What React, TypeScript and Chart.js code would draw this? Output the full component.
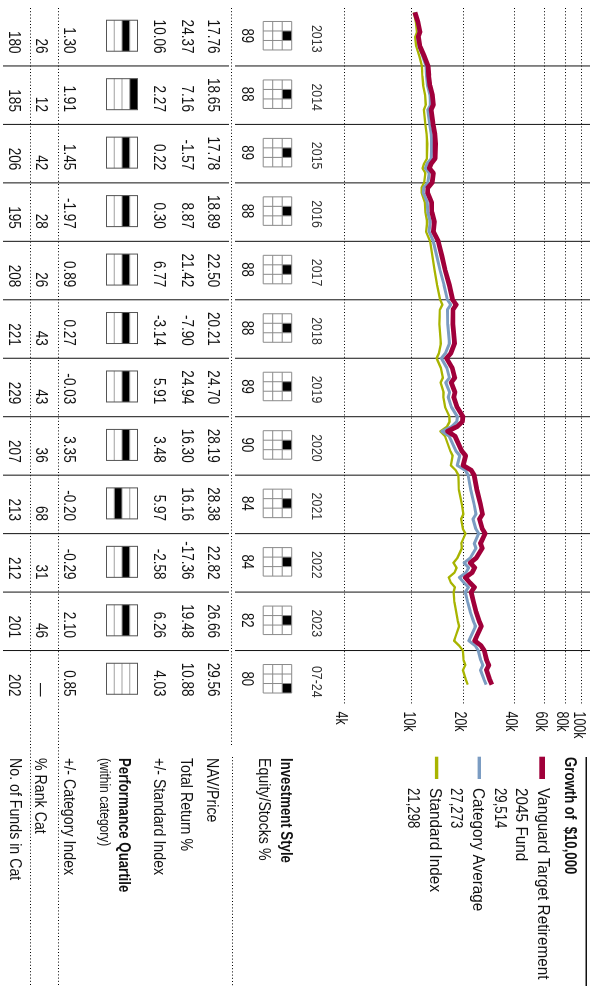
import React, { useEffect, useRef } from 'react';
import { Chart, registerables } from 'chart.js';

Chart.register(...registerables);

// ---- Growth of $10,000 (month index: 1 = end of Jan 2013) ----
const MONTHS = [1, 3, 5, 6, 8, 10, 12, 14, 16, 18, 20, 21, 24, 26, 28, 31, 32, 33, 34, 36, 37, 38, 40, 42, 44, 46, 48, 51, 54, 57, 60, 61, 62, 65, 69, 71, 72, 74, 76, 77, 79, 80, 82, 84, 85, 86, 87, 88, 91, 92, 94, 95, 96, 99, 102, 104, 105, 107, 108, 110, 111, 113, 114, 115, 116, 117, 118, 119, 120, 122, 124, 126, 127, 129, 130, 131, 132, 134, 135, 136, 138, 139];

const FUND = [10400, 10850, 11150, 10900, 11150, 11800, 12437,
  12550, 12750, 13200, 13350, 12950, 13328,
  13650, 13750, 13700, 13000, 12650, 13350, 13119,
  12400, 12350, 13050, 13100, 13550, 13350, 14283,
  15000, 15700, 16600, 17342,
  18200, 17450, 17400, 17800, 16900, 15972,
  17250, 17850, 17000, 17900, 17600, 18400, 19955,
  19800, 18500, 16200, 17900, 19600, 20700, 20000, 22300, 23208,
  24100, 25300, 26000, 24950, 25900, 26958,
  25300, 25900, 23900, 22000, 23400, 22600, 20600, 21800, 23300, 22278,
  23000, 23800, 24900, 25600, 24100, 23400, 25500, 26618,
  27500, 28300, 27400, 28700, 29514];

const CATEGORY = [10380, 10780, 11050, 10780, 11000, 11580, 12100,
  12180, 12330, 12750, 12870, 12400, 12700,
  12980, 13080, 13000, 12300, 11980, 12630, 12400,
  11720, 11650, 12320, 12380, 12800, 12600, 13350,
  14000, 14650, 15450, 16150,
  16900, 16200, 16250, 16600, 15700, 14900,
  16050, 16600, 15800, 16650, 16350, 17050, 18500,
  18350, 17150, 15000, 16550, 18100, 19100, 18450, 20600, 21400,
  22150, 23200, 23800, 22850, 23700, 24700,
  23250, 23800, 22000, 20250, 21550, 20800, 19000, 20100, 21500, 20600,
  21250, 22000, 23000, 23650, 22250, 21600, 23550, 24550,
  25400, 26150, 25300, 26550, 27273];

const INDEX = [10250, 10550, 10700, 10450, 10600, 11050, 11431,
  11500, 11650, 11950, 12050, 11750, 11990,
  12200, 12300, 12250, 11800, 11550, 12000, 11775,
  11400, 11400, 11900, 12000, 12300, 12100, 12785,
  13200, 13600, 14050, 14658,
  15100, 14600, 14500, 14800, 14400, 13960,
  14800, 15200, 14750, 15350, 15300, 15650, 16616,
  16650, 16100, 14700, 15650, 16800, 17350, 16950, 18100, 18747,
  18900, 19650, 20050, 19450, 19900, 20657,
  19500, 19650, 18500, 17550, 18300, 17800, 16450, 16900, 17900, 17604,
  17750, 18200, 18600, 18950, 18100, 17700, 18950, 19931,
  20150, 20600, 19950, 20750, 21296];

const Y_TICKS = [4000, 10000, 20000, 40000, 60000, 80000, 100000];
const Y_TICK_LABELS = ['4k', '10k', '20k', '40k', '60k', '80k', '100k'];

const LEGEND_NAMES = [['Vanguard Target Retirement', '2045 Fund'], ['Category Average'], ['Standard Index']];
const LEGEND_VALUES = ['29,514', '27,273', '21,298'];

// ---- table ----
const YEARS = ['2013', '2014', '2015', '2016', '2017', '2018', '2019', '2020', '2021', '2022', '2023', '07-24'];
const EQUITY = ['89', '88', '89', '88', '88', '88', '89', '90', '84', '84', '82', '80'];
const STYLE_COL = [1, 1, 1, 1, 1, 1, 1, 1, 1, 1, 1, 2]; // 0 value, 1 blend, 2 growth (large row)
const NAV = ['17.76', '18.65', '17.78', '18.89', '22.50', '20.21', '24.70', '28.19', '28.38', '22.82', '26.66', '29.56'];
const TOTAL_RETURN = ['24.37', '7.16', '-1.57', '8.87', '21.42', '-7.90', '24.94', '16.30', '16.16', '-17.36', '19.48', '10.88'];
const VS_STANDARD = ['10.06', '2.27', '0.22', '0.30', '6.77', '-3.14', '5.91', '3.48', '5.97', '-2.58', '6.26', '4.03'];
const QUARTILE = [2, 1, 2, 2, 2, 2, 2, 2, 3, 2, 2, 0];
const VS_CATEGORY = ['1.30', '1.91', '1.45', '-1.97', '0.89', '0.27', '-0.03', '3.35', '-0.20', '-0.29', '2.10', '0.85'];
const RANK_CAT = ['26', '12', '42', '28', '26', '43', '43', '36', '68', '31', '46', '—'];
const FUNDS_IN_CAT = ['180', '185', '206', '195', '208', '221', '229', '207', '213', '212', '201', '202'];

const RED = '#a0003a';
const BLUE = '#7b9cc2';
const GREEN = '#a8b400';
const INK = '#111';
const FONT = "'Liberation Sans', Arial, sans-serif";

function text(ctx: CanvasRenderingContext2D, s: string, x: number, y: number,
  o: { size?: number; bold?: boolean; align?: CanvasTextAlign; color?: string; sx?: number } = {}) {
  const size = o.size ?? 16.5;
  ctx.save();
  ctx.font = `${o.bold ? 'bold ' : ''}${size}px ${FONT}`;
  ctx.fillStyle = o.color ?? INK;
  ctx.textBaseline = 'middle';
  ctx.textAlign = o.align ?? 'left';
  ctx.translate(x, y);
  ctx.scale(o.sx ?? 0.84, 1);
  ctx.fillText(s, 0, 0);
  ctx.restore();
}

function seg(ctx: CanvasRenderingContext2D, x1: number, y1: number, x2: number, y2: number) {
  ctx.beginPath();
  ctx.moveTo(x1, y1);
  ctx.lineTo(x2, y2);
  ctx.stroke();
}

const crisp = (v: number) => Math.round(v - 0.5) + 0.5;

const morningstarPlugin = {
  id: 'morningstarTable',
  beforeDatasetsDraw(chart: any) {
    const { ctx, scales } = chart;
    const x = scales.x;
    const y = scales.y;
    ctx.save();
    ctx.strokeStyle = '#000';
    ctx.lineWidth = 1;
    ctx.setLineDash([1, 2.2]);
    Y_TICKS.forEach((v) => {
      const py = crisp(y.getPixelForValue(v));
      seg(ctx, 8, py, 705, py);
    });
    seg(ctx, 8, 358.5, 745, 358.5);
    seg(ctx, 757, 357.5, 986, 357.5);
    seg(ctx, 8, 531.5, 986, 531.5);
    seg(ctx, 8, 559.5, 986, 559.5);
    ctx.setLineDash([]);
    ctx.strokeStyle = '#111';
    for (let i = 1; i < YEARS.length; i++) {
      const px = x.getPixelForValue(12 * i);
      seg(ctx, px, 0, px, 355);
      seg(ctx, px, 361, px, 587);
    }
    ctx.restore();
  },
  afterDraw(chart: any) {
    const { ctx, scales } = chart;
    const x = scales.x;
    const y = scales.y;
    // y tick labels
    Y_TICKS.forEach((v, i) => {
      text(ctx, Y_TICK_LABELS[i], 711.5, y.getPixelForValue(v) + 3.5, { size: 16.5, sx: 0.75 });
    });
    // legend
    ctx.save();
    ctx.fillStyle = '#111';
    ctx.fillRect(757, 3, 229, 1.5);
    ctx.restore();
    text(ctx, 'Growth of  $10,000', 757, 20.5, { bold: true, sx: 0.8 });
    const markers = [
      { c: RED, y: 45, h: 5.7 },
      { c: BLUE, y: 109, h: 3.4 },
      { c: GREEN, y: 151.7, h: 3.4 },
    ];
    const nameY = [[47.5, 69], [112.5], [155.5]];
    const valueY = [90, 134, 177.5];
    markers.forEach((m, i) => {
      ctx.save();
      ctx.fillStyle = m.c;
      ctx.fillRect(756.7, m.y, 22.3, m.h);
      ctx.restore();
      LEGEND_NAMES[i].forEach((n, j) => text(ctx, n, 788, nameY[i][j], { sx: 0.93 }));
      text(ctx, LEGEND_VALUES[i], 788, valueY[i], { sx: 0.8 });
    });
    // row labels
    text(ctx, 'Investment Style', 758, 304, { bold: true, sx: 0.8 });
    text(ctx, 'Equity/Stocks %', 758, 326, { sx: 0.86 });
    text(ctx, 'NAV/Price', 758, 378, { sx: 0.86 });
    text(ctx, 'Total Return %', 758, 404, { sx: 0.86 });
    text(ctx, '+/- Standard Index', 758, 431.5, { sx: 0.86 });
    text(ctx, 'Performance Quartile', 758, 466.5, { bold: true, sx: 0.8 });
    text(ctx, '(within category)', 758, 486.5, { size: 14, sx: 0.86 });
    text(ctx, '+/- Category Index', 758, 521.5, { sx: 0.86 });
    text(ctx, '% Rank Cat', 758, 550, { sx: 0.86 });
    text(ctx, 'No. of Funds in Cat', 758, 575, { sx: 0.86 });

    // columns
    YEARS.forEach((yr, i) => {
      const left = x.getPixelForValue(12 * i);
      const right = x.getPixelForValue(12 * (i + 1));
      const cx = (left + right) / 2;
      const rx = right - 12.5;
      text(ctx, yr, cx + 2, 274.2, { size: 15.5, sx: 0.8, align: 'center', color: '#333' });

      // style box
      const sbL = cx - 1 - 14.25;
      const sbT = 298.3;
      const cell = 9.5;
      ctx.save();
      ctx.fillStyle = '#000';
      ctx.fillRect(sbL + STYLE_COL[i] * cell, sbT, cell, cell);
      ctx.strokeStyle = '#8a8a8a';
      ctx.lineWidth = 1;
      for (let k = 0; k <= 3; k++) {
        seg(ctx, sbL + k * cell, sbT, sbL + k * cell, sbT + 3 * cell);
        seg(ctx, sbL, sbT + k * cell, sbL + 3 * cell, sbT + k * cell);
      }
      ctx.restore();
      text(ctx, EQUITY[i], cx - 1, 343.3, { align: 'center', sx: 0.8 });

      text(ctx, NAV[i], rx, 377.5, { align: 'right', sx: 0.82 });
      text(ctx, TOTAL_RETURN[i], rx, 403.5, { align: 'right', sx: 0.82 });
      text(ctx, VS_STANDARD[i], rx, 431, { align: 'right', sx: 0.82 });

      // quartile box
      const qL = cx - 1 - 15.5;
      const qT = 452.5;
      const qW = 31;
      const band = 7.75;
      ctx.save();
      if (QUARTILE[i] > 0) {
        ctx.fillStyle = '#000';
        ctx.fillRect(qL, qT + (QUARTILE[i] - 1) * band, qW, band);
      }
      ctx.strokeStyle = '#a0a0a0';
      ctx.lineWidth = 1;
      for (let k = 1; k < 4; k++) seg(ctx, qL, qT + k * band, qL + qW, qT + k * band);
      ctx.strokeStyle = '#555';
      ctx.strokeRect(qL, qT, qW, band * 4);
      ctx.restore();

      text(ctx, VS_CATEGORY[i], rx, 521, { align: 'right', sx: 0.82 });
      text(ctx, RANK_CAT[i], rx, 549, { align: 'right', sx: 0.82 });
      text(ctx, FUNDS_IN_CAT[i], rx, 576, { align: 'right', sx: 0.82 });
    });
  },
};

export default function App() {
  const ref = useRef<HTMLCanvasElement>(null);
  useEffect(() => {
    document.body.style.margin = '0';
    const canvas = ref.current;
    if (!canvas) return;
    const pts = (vals: number[]) => MONTHS.map((m, i) => ({ x: m, y: vals[i] }));
    const chart = new Chart(canvas, {
      type: 'line',
      data: {
        datasets: [
          { label: 'Vanguard Target Retirement 2045 Fund', data: pts(FUND), borderColor: RED, borderWidth: 4.8, pointRadius: 0, tension: 0, borderJoinStyle: 'round' },
          { label: 'Category Average', data: pts(CATEGORY), borderColor: BLUE, borderWidth: 3, pointRadius: 0, tension: 0, borderJoinStyle: 'round' },
          { label: 'Standard Index', data: pts(INDEX), borderColor: GREEN, borderWidth: 2.3, pointRadius: 0, tension: 0, borderJoinStyle: 'round' },
        ],
      },
      options: {
        responsive: false,
        animation: false,
        devicePixelRatio: 1,
        events: [],
        layout: { padding: { left: 7.5, right: 277, top: 8, bottom: 344.3 } },
        plugins: { legend: { display: false }, tooltip: { enabled: false } },
        scales: {
          x: { type: 'linear', min: 0, max: 144, display: false },
          y: { type: 'logarithmic', min: 4000, max: 100000, display: false },
        },
      },
      plugins: [morningstarPlugin],
    } as any);
    return () => chart.destroy();
  }, []);

  return (
    <div style={{ position: 'relative', width: 590, height: 986, overflow: 'hidden', background: '#fff' }}>
      <div style={{ position: 'absolute', left: 0, top: 0, width: 986, height: 590, transformOrigin: '0 0', transform: 'translate(590px, 0px) rotate(90deg)' }}>
        <canvas ref={ref} width={986} height={590} style={{ display: 'block', width: 986, height: 590 }} />
      </div>
    </div>
  );
}
